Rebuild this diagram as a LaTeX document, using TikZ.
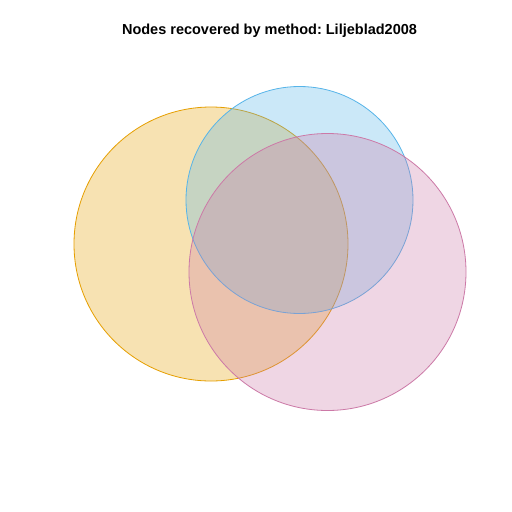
\documentclass[tikz,border=0pt]{standalone}
\usepackage{fontspec}
\setmainfont{Liberation Sans}
\frenchspacing
\definecolor{vorange}{HTML}{E69F00}
\definecolor{vblue}{HTML}{56B4E9}
\definecolor{vpink}{HTML}{CC79A7}
\begin{document}
\begin{tikzpicture}[x=1pt,y=-1pt,
  setcircle/.style={line width=0.8pt, fill opacity=0.3, draw opacity=1}]
\useasboundingbox (0,0) rectangle (512,512);
\fill[white] (0,0) rectangle (512,512);
\node[font=\bfseries\fontsize{14.5}{16}\selectfont, inner sep=0pt] (title) at (269.5,31) {Nodes recovered by method: Liljeblad2008};
\draw[setcircle, draw=vorange, fill=vorange] (211,244) circle (137);
\draw[setcircle, draw=vblue, fill=vblue] (299.5,200) circle (113.5);
\draw[setcircle, draw=vpink, fill=vpink] (327.5,272) circle (138.5);
\end{tikzpicture}
\end{document}
